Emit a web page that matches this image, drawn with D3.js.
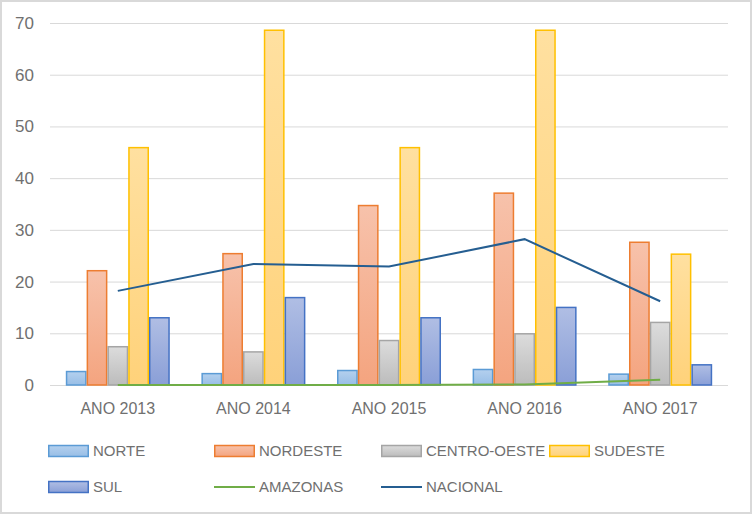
<!DOCTYPE html>
<html lang="pt">

<head>
  <meta charset="UTF-8" />
  <title>d3</title>
  <script src="https://cdn.jsdelivr.net/npm/d3@7"></script>
  <style>
    body { margin: 0; background: #fff; }
    svg { display: block; font-family: "Liberation Sans", Arial, sans-serif; }
  </style>
</head>

<body>
  <svg id="svg"></svg>
</body>

<script>
  const years = ["ANO 2013", "ANO 2014", "ANO 2015", "ANO 2016", "ANO 2017"];
  const barSeries = ["NORTE", "NORDESTE", "CENTRO-OESTE", "SUDESTE", "SUL"];
  const norte = [2.6, 2.2, 2.8, 3.0, 2.1];
  const nordeste = [22.1, 25.4, 34.7, 37.1, 27.6];
  const centroOeste = [7.4, 6.4, 8.6, 9.9, 12.1];
  const sudeste = [45.9, 68.6, 45.9, 68.6, 25.3];
  const sul = [13.0, 16.9, 13.0, 15.0, 3.9];
  const amazonas = [0, 0, 0, 0.1, 1.0];
  const nacional = [18.2, 23.4, 22.9, 28.2, 16.2];
  const yTicks = [0, 10, 20, 30, 40, 50, 60, 70];

  const barValues = [norte, nordeste, centroOeste, sudeste, sul];
  const lineSeries = [
    { name: "AMAZONAS", values: amazonas, color: "#70ad47" },
    { name: "NACIONAL", values: nacional, color: "#255e91" }
  ];

  // border colour, gradient top, gradient bottom
  const barStyle = {
    "NORTE": ["#5b9bd5", "#b4d0ee", "#98bee6"],
    "NORDESTE": ["#ed7d31", "#f7c2ab", "#f4a47f"],
    "CENTRO-OESTE": ["#a5a5a5", "#dcdcdc", "#bcbcbc"],
    "SUDESTE": ["#ffc000", "#ffe0a0", "#ffd27a"],
    "SUL": ["#4472c4", "#b0bee4", "#8a9fd7"]
  };

  const textColor = "#707070";
  const width = 752;
  const height = 514;
  const plot = { left: 50, right: 728, top: 23, bottom: 385 };

  const svg = d3.select("#svg").attr("width", width).attr("height", height);

  // gradients
  const defs = svg.append("defs");
  barSeries.forEach((s, i) => {
    const grad = defs.append("linearGradient")
      .attr("id", "grad" + i)
      .attr("x1", 0).attr("y1", 0).attr("x2", 0).attr("y2", 1);
    grad.append("stop").attr("offset", "0%").attr("stop-color", barStyle[s][1]);
    grad.append("stop").attr("offset", "100%").attr("stop-color", barStyle[s][2]);
  });

  // outer border
  svg.append("rect")
    .attr("x", 1).attr("y", 1)
    .attr("width", width - 2).attr("height", height - 2)
    .attr("fill", "#fff")
    .attr("stroke", "#d9d9d9")
    .attr("stroke-width", 2);

  const x0 = d3.scaleBand().domain(years).range([plot.left, plot.right]).paddingInner(0);
  const x1 = d3.scaleBand().domain(barSeries).range([0, x0.bandwidth()]).paddingInner(0).paddingOuter(0.76);
  const y = d3.scaleLinear().domain([0, 70]).range([plot.bottom, plot.top]);

  // y axis with gridlines
  const yAxis = d3.axisLeft(y).tickValues(yTicks).tickSize(-(plot.right - plot.left)).tickPadding(16);
  const yAxisGroup = svg.append("g")
    .attr("transform", `translate(${plot.left},0)`)
    .call(yAxis);
  yAxisGroup.selectAll(".domain").remove();
  yAxisGroup.selectAll(".tick line").attr("stroke", "#d9d9d9").attr("stroke-width", 1);
  yAxisGroup.selectAll(".tick text")
    .attr("fill", textColor)
    .attr("font-size", 17);

  // x axis labels
  const xAxis = d3.axisBottom(x0).tickSize(0).tickPadding(18);
  const xAxisGroup = svg.append("g")
    .attr("transform", `translate(0,${plot.bottom})`)
    .call(xAxis);
  xAxisGroup.selectAll(".domain").remove();
  xAxisGroup.selectAll(".tick text")
    .attr("fill", textColor)
    .attr("font-size", 16);

  // bars
  const barData = [];
  years.forEach((yr, i) => {
    barSeries.forEach((s, j) => {
      barData.push({ year: yr, series: s, idx: j, value: barValues[j][i] });
    });
  });

  svg.append("g")
    .selectAll("rect")
    .data(barData)
    .join("rect")
    .attr("x", d => x0(d.year) + x1(d.series) + 0.75)
    .attr("y", d => y(d.value))
    .attr("width", x1.bandwidth() - 1.5)
    .attr("height", d => y(0) - y(d.value))
    .attr("fill", d => `url(#grad${d.idx})`)
    .attr("stroke", d => barStyle[d.series][0])
    .attr("stroke-width", 1.5);

  // lines
  const line = d3.line()
    .x((d, i) => x0(years[i]) + x0.bandwidth() / 2)
    .y(d => y(d));

  lineSeries.forEach(ls => {
    svg.append("path")
      .datum(ls.values)
      .attr("d", line)
      .attr("fill", "none")
      .attr("stroke", ls.color)
      .attr("stroke-width", 2);
  });

  // legend
  const legendItems = [
    ...barSeries.map((s, i) => ({ name: s, type: "bar", idx: i })),
    ...lineSeries.map(ls => ({ name: ls.name, type: "line", color: ls.color }))
  ];
  const legendCol = [48, 214, 381, 549];
  const legendRow = [451, 487];

  const legend = svg.append("g");
  legendItems.forEach((item, k) => {
    const col = k < 5 ? k % 4 : (k - 4);
    const row = k < 4 ? 0 : 1;
    const g = legend.append("g").attr("transform", `translate(${legendCol[col]},${legendRow[row]})`);
    if (item.type === "bar") {
      g.append("rect")
        .attr("x", 0.75).attr("y", -5.5)
        .attr("width", 39.5).attr("height", 11)
        .attr("fill", `url(#grad${item.idx})`)
        .attr("stroke", barStyle[item.name][0])
        .attr("stroke-width", 1.5);
    } else {
      g.append("line")
        .attr("x1", 0).attr("x2", 41)
        .attr("y1", 0).attr("y2", 0)
        .attr("stroke", item.color)
        .attr("stroke-width", 2);
    }
    g.append("text")
      .attr("x", 45)
      .attr("dy", "0.36em")
      .attr("font-size", 15)
      .attr("fill", textColor)
      .text(item.name);
  });
</script>

</html>
